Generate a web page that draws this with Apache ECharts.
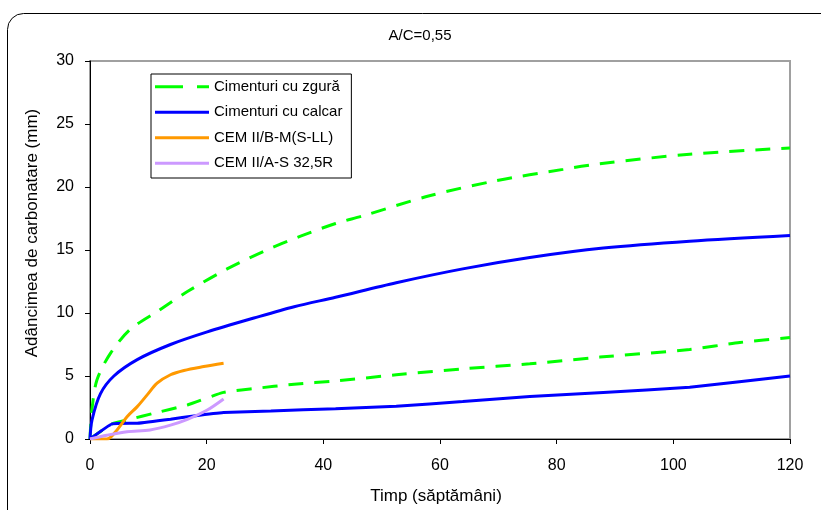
<!DOCTYPE html>
<html>
<head>
<meta charset="utf-8">
<script src="https://cdn.jsdelivr.net/npm/echarts@6/dist/echarts.min.js"></script>
<style>html,body{margin:0;padding:0;background:#fff}#c{width:821px;height:510px}</style>
</head>
<body>
<div id="c"></div>
<script>
var xTicks = [0, 20, 40, 60, 80, 100, 120];
var yTicks = [0, 5, 10, 15, 20, 25, 30];

var zguraHighT = [0, 0.3, 1.2, 3.5, 6.9, 11.8, 16.7, 23.5, 29.8, 36.1, 42.1, 46.7, 58.2, 69.6, 81.1, 87.4, 102.8, 120];
var zguraHighY = [0, 2.2, 4.7, 6.8, 8.7, 10.2, 11.7, 13.5, 14.9, 16.1, 17.1, 17.7, 19.3, 20.5, 21.4, 21.85, 22.6, 23.1];

var zguraLowT = [0, 3.8, 6.9, 10.9, 16.7, 22.9, 28.1, 35, 42.1, 52.5, 63.9, 75.4, 87.4, 102.8, 111.4, 120];
var zguraLowY = [0, 1.2, 1.57, 2.04, 2.7, 3.7, 4.0, 4.35, 4.6, 5.1, 5.57, 5.97, 6.5, 7.1, 7.66, 8.05];

var calcarHighT = [0, 0.34, 1.8, 4.1, 8.1, 13.8, 20.1, 28.1, 35, 42.1, 52.5, 63.9, 75.4, 88, 102.8, 120];
var calcarHighY = [0, 1.5, 3.6, 5.0, 6.3, 7.5, 8.5, 9.6, 10.5, 11.25, 12.4, 13.5, 14.4, 15.15, 15.7, 16.15];

var calcarLowT = [0, 3.8, 8.1, 13.8, 17.8, 22.9, 31, 42.1, 52.5, 63.9, 75.4, 88, 102.8, 120];
var calcarLowY = [0, 1.2, 1.25, 1.57, 1.83, 2.1, 2.23, 2.41, 2.6, 2.97, 3.37, 3.7, 4.1, 5.0];

var bmT = [0, 2.9, 4.6, 6.35, 8.1, 9.8, 11.5, 13.8, 16.1, 19.5, 22.9];
var bmY = [0, 0, 0.7, 1.77, 2.57, 3.5, 4.43, 5.1, 5.44, 5.75, 6.02];

var asT = [0, 2.9, 6.35, 10.3, 13.8, 16.7, 20.1, 22.9];
var asY = [0, 0.3, 0.58, 0.72, 1.1, 1.56, 2.3, 3.18];

var names = ['Cimenturi cu zgură', 'Cimenturi cu calcar', 'CEM II/B-M(S-LL)', 'CEM II/A-S 32,5R'];
var colors = ['#00FF00', '#0000FF', '#FF9900', '#CC99FF'];
var titleText = 'A/C=0,55';
var xName = 'Timp (săptămâni)';
var yName = 'Adâncimea de carbonatare (mm)';

function pairs(t, y) { return t.map(function (v, i) { return [v, y[i]]; }); }

var FONT = 'Liberation Sans, Arial, sans-serif';
var chart = echarts.init(document.getElementById('c'), null, { renderer: 'canvas' });

function mk(name, color, t, y, dashed, smooth) {
  return {
    type: 'line', name: name, data: pairs(t, y), showSymbol: false, symbol: 'none',
    smooth: smooth, color: color,
    lineStyle: { color: color, width: 3, type: dashed ? [15, 11] : 'solid' }
  };
}

var dashIcon = 'path://M0,0 L28,0 L28,3 L0,3 Z M42,0 L54,0 L54,3 L42,3 Z';
var solidIcon = 'path://M0,0 L54,0 L54,3 L0,3 Z';

chart.setOption({
  animation: false,
  title: {
    text: titleText, left: 415, top: 23, textAlign: 'center',
    textStyle: { fontFamily: FONT, fontSize: 15, fontWeight: 'normal', color: '#000' }
  },
  graphic: [{
    type: 'rect', shape: { x: 7.5, y: 13.5, width: 900, height: 600, r: 16 },
    style: { fill: 'none', stroke: '#000', lineWidth: 1 }, silent: true, z: -1
  }, {
    type: 'text', x: 32, y: 233, rotation: Math.PI / 2,
    style: { text: yName, fontFamily: FONT, fontSize: 17, fill: '#000', align: 'center', verticalAlign: 'middle' }
  }, {
    type: 'text', x: 436, y: 496,
    style: { text: xName, fontFamily: FONT, fontSize: 17, fill: '#000', align: 'center', verticalAlign: 'middle' }
  }],
  grid: { left: 90, top: 61, right: 31, bottom: 71, show: true, borderColor: '#a0a0a0', borderWidth: 2, backgroundColor: 'transparent' },
  legend: {
    left: 151, top: 74, orient: 'vertical',
    data: [
      { name: names[0], icon: dashIcon },
      { name: names[1], icon: solidIcon },
      { name: names[2], icon: solidIcon },
      { name: names[3], icon: solidIcon }
    ],
    itemWidth: 54, itemHeight: 3, itemGap: 8,
    padding: [4, 9, 6, 4],
    borderColor: '#000', borderWidth: 1, backgroundColor: '#fff',
    textStyle: { fontFamily: FONT, fontSize: 15, color: '#000', lineHeight: 17.5 }
  },
  xAxis: {
    type: 'value', min: xTicks[0], max: xTicks[xTicks.length - 1], interval: 20,
    axisLine: { onZero: false, lineStyle: { color: '#000', width: 1 } },
    axisTick: { inside: false, length: 5, lineStyle: { color: '#000' } },
    axisLabel: { fontFamily: FONT, fontSize: 16, color: '#000', margin: 19 },
    splitLine: { show: false }
  },
  yAxis: {
    type: 'value', min: yTicks[0], max: yTicks[yTicks.length - 1], interval: 5,
    axisLine: { onZero: false, lineStyle: { color: '#000', width: 1 } },
    axisTick: { inside: false, length: 5, lineStyle: { color: '#000' } },
    axisLabel: { fontFamily: FONT, fontSize: 16, color: '#000', margin: 16 },
    splitLine: { show: false }
  },
  series: [
    mk(names[0], colors[0], zguraHighT, zguraHighY, true, 0.3),
    mk(names[0], colors[0], zguraLowT, zguraLowY, true, 0.2),
    mk(names[1], colors[1], calcarHighT, calcarHighY, false, 0.3),
    mk(names[1], colors[1], calcarLowT, calcarLowY, false, 0.1),
    mk(names[2], colors[2], bmT, bmY, false, 0.3),
    mk(names[3], colors[3], asT, asY, false, 0.3)
  ]
});
</script>
</body>
</html>
